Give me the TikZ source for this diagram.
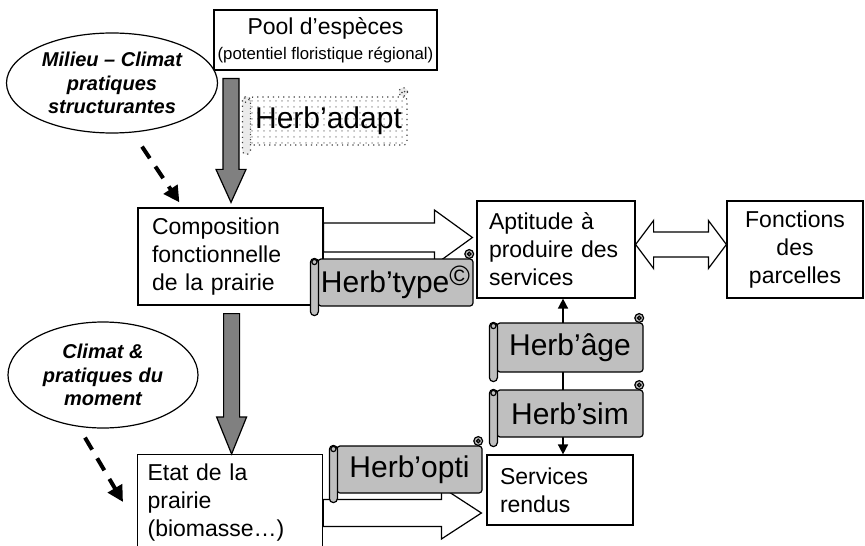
\documentclass[tikz,border=0pt]{standalone}
\usepackage{fontspec}
\setmainfont{Liberation Sans}
\usetikzlibrary{positioning,arrows.meta,shapes.geometric,calc,patterns}

\begin{document}
\begin{tikzpicture}[
    x=0.5pt, y=0.5pt,
    font=\fontsize{11.5}{14}\selectfont,
    % ---- styles -------------------------------------------------
    box/.style={
        draw=black, line width=0.6pt, fill=white, inner sep=0pt,
        font=\fontsize{11.5}{14}\selectfont},
    leftbox/.style={box, align=left},
    cloud/.style={
        ellipse, draw=black, line width=0.6pt, fill=white,
        align=center, inner sep=0pt,
        font=\fontsize{10}{11.7}\selectfont\bfseries\itshape},
    scroll/.style={
        draw=black, line width=0.6pt, fill=black!25, rounded corners=1.5pt,
        inner sep=0pt, minimum width=73pt, minimum height=23.5pt,
        font=\fontsize{15}{18}\selectfont},
    scrolldot/.style={scroll, draw=black!75, dotted,
        pattern=dots, pattern color=black!30},
    roll/.style={draw=black, line width=0.6pt, fill=black!25, rounded corners=2pt},
    rolldot/.style={draw=black!75, dotted, line width=0.6pt, fill=black!8, rounded corners=2pt},
    hollow/.style={draw=black, line width=0.6pt, fill=white, line join=miter},
    fat/.style={draw=black, line width=0.6pt, fill=black!50},
    dashflow/.style={line width=2pt, dash pattern=on 7pt off 5pt,
        -{Triangle[length=8pt,width=8pt]}},
    link/.style={line width=0.8pt,
        {Triangle[length=5pt,width=5pt]}-{Triangle[length=5pt,width=5pt]}},
]
\useasboundingbox (0,0) rectangle (865,-545);

% =================== boxes ====================================
\node[box, align=center, minimum width=111.5pt, minimum height=30pt] (pool) at (325.5,-40)
    {Pool d’espèces\\[-1.5pt] {\fontsize{8.4}{9}\selectfont (potentiel floristique régional)}};
\node[leftbox, text width=78.5pt, inner xsep=7pt, minimum height=48.5pt] (comp) at (230.5,-256.5)
    {Composition\\ fonctionnelle\\ de la prairie};
\node[leftbox, text width=67pt, inner xsep=6pt, minimum height=48.5pt] (apt) at (556,-249.5)
    {Aptitude à\\ produire des\\ services};
\node[box, align=center, text width=60pt, inner xsep=4pt, minimum height=48.5pt] (fonc) at (795,-249.5)
    {Fonctions\\ des\\ parcelles};
\node[leftbox, text width=60pt, inner xsep=6.5pt, minimum height=35pt] (serv) at (560,-490)
    {Services\\ rendus};
\node[leftbox, anchor=north west, text width=82.5pt, inner xsep=5pt, inner ysep=4.5pt] (etat) at (137,-454)
    {Etat de la\\ prairie\\ (biomasse…)};

% =================== drivers ==================================
\node[cloud, minimum width=105.5pt, minimum height=50pt] (milieu) at (112,-83)
    {Milieu – Climat\\ pratiques\\ structurantes};
\node[cloud, minimum width=95pt, minimum height=53pt] (climat) at (103,-375)
    {Climat \&\\ pratiques du\\ moment};

% =================== hollow arrows ============================
\coordinate (t1) at ($(apt.west)+(-4,12)$);
\coordinate (b1) at ($(t1)+(-38,0)$);
\coordinate (s1) at (comp.east |- t1);
\draw[hollow] ([yshift=7.25pt]s1) -- ([yshift=7.25pt]b1) -- ([yshift=13.75pt]b1) -- (t1)
    -- ([yshift=-13.75pt]b1) -- ([yshift=-7.25pt]b1) -- ([yshift=-7.25pt]s1) -- cycle;

\coordinate (t2) at ($(serv.west)+(-5,-23)$);
\coordinate (b2) at ($(t2)+(-40,0)$);
\coordinate (s2) at (etat.east |- t2);
\draw[hollow] ([yshift=6.75pt]s2) -- ([yshift=6.75pt]b2) -- ([yshift=13pt]b2) -- (t2)
    -- ([yshift=-13pt]b2) -- ([yshift=-6.75pt]b2) -- ([yshift=-6.75pt]s2) -- cycle;

\coordinate (dl) at ($(apt.east)+(0,5)$);
\coordinate (dr) at ($(fonc.west)+(0,5)$);
\draw[hollow] (dl) -- ([xshift=9pt,yshift=12pt]dl) -- ([xshift=9pt,yshift=6.25pt]dl)
    -- ([xshift=-9pt,yshift=6.25pt]dr) -- ([xshift=-9pt,yshift=12pt]dr) -- (dr)
    -- ([xshift=-9pt,yshift=-12pt]dr) -- ([xshift=-9pt,yshift=-6.25pt]dr)
    -- ([xshift=9pt,yshift=-6.25pt]dl) -- ([xshift=9pt,yshift=-12pt]dl) -- cycle;

% =================== grey arrows ==============================
\coordinate (t3) at ($(comp.north)+(0.5,5)$);
\coordinate (s3) at (t3 |- pool.south);
\coordinate (t4) at ($(etat.north)+(1.5,0)$);
\coordinate (s4) at (t4 |- comp.south);
\foreach \a/\b/\h in {s3/t3/16.5pt, s4/t4/18.5pt}{
    \draw[fat] ([xshift=-4pt,yshift=-4pt]\a) -- ([xshift=-4pt,yshift=\h]\b)
        -- ([xshift=-7.5pt,yshift=\h]\b) -- (\b) -- ([xshift=7.5pt,yshift=\h]\b)
        -- ([xshift=4pt,yshift=\h]\b) -- ([xshift=4pt,yshift=-4pt]\a) -- cycle;
}

% =================== dashed + link ============================
\draw[dashflow] ($(milieu.south)+(30,-13)$) -- ($(comp.north west)+(42,5)$);
\draw[dashflow] ($(climat.south)+(-18,-9)$) -- ($(etat.north west)+(-14,-48)$);

\coordinate (lk) at ([xshift=1.5pt]serv.north);
\draw[link] (lk) -- (lk |- apt.south);

% =================== scrolls ==================================
\node[scrolldot, minimum width=78.5pt, minimum height=24pt] (herbadapt) at (328.5,-121) {Herb’adapt};
\node[scroll, minimum width=77.5pt] (herbtype) at (395.5,-282.5)
    {Herb’type{\fontsize{14}{14}\selectfont\raisebox{3.5pt}{©}}};
\node[scroll, minimum height=24.5pt] (herbage) at (570,-347.5) {Herb’âge};
\node[scroll] (herbsim) at (570,-413.5) {Herb’sim};
\node[scroll, minimum width=72.5pt] (herbopti) at (409.5,-469.5) {Herb’opti};

\foreach \s/\r in {herbadapt/rolldot, herbtype/roll, herbage/roll, herbsim/roll, herbopti/roll}{
    \draw[\r] ([xshift=-3.5pt]\s.north west) rectangle ([xshift=0.5pt,yshift=-4.5pt]\s.south west);
    \draw[\r] ([xshift=-1.5pt,yshift=-1.8pt]\s.north west) circle (1.3pt);
    \draw[\r] ([xshift=-2.2pt,yshift=2.2pt]\s.north east) circle (2.2pt);
    \draw[\r] ([xshift=-2.2pt,yshift=2.2pt]\s.north east) circle (0.9pt);
}

\end{tikzpicture}
\end{document}
